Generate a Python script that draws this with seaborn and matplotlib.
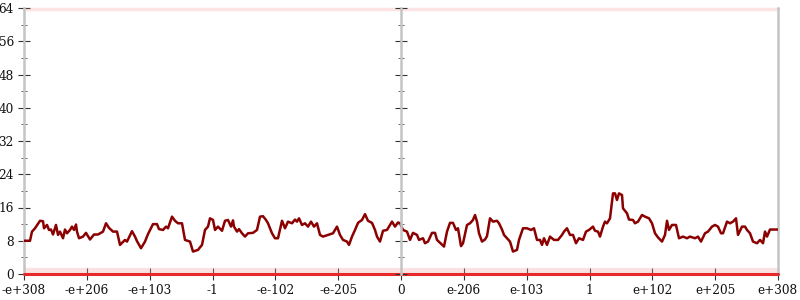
import numpy as np
import pandas as pd
import matplotlib
matplotlib.use("Agg")
import matplotlib.pyplot as plt
import seaborn as sns

# position along the axis (0..754 scale) and value
pos = [0,6,8,11,16,19,20,23,25,27,29,32,34,36,39,41,43,46,48,50,52,53,55,59,62,66,70,74,79,82,85,89,93,96,101,103,108,111,113,117,121,124,129,133,135,139,142,144,148,151,154,158,161,166,169,174,178,181,184,
       186,189,191,194,198,201,204,207,209,210,213,215,218,221,224,229,233,236,239,242,244,248,251,254,258,261,264,268,271,273,275,278,281,284,287,290,293,296,299,304,309,313,316,319,323,325,328,331,334,338,341,344,348,351,353,356,359,363,368,371,374,376,
       379,383,386,389,393,395,399,401,404,408,411,413,416,420,423,426,429,432,434,437,439,443,446,449,451,453,455,458,461,463,466,469,473,475,478,480,483,486,489,493,495,499,503,507,510,513,516,518,520,523,526,530,534,538,540,543,546,549,552,555,559,562,565,569,571,
       574,576,579,581,583,586,589,591,593,595,598,599,603,605,609,611,614,618,621,625,628,631,634,638,641,643,645,648,652,655,659,663,666,671,674,677,681,684,688,691,694,697,699,703,706,709,712,714,718,721,723,726,729,733,736,739,741,743,746,751,754]
val = [8,8,10.2,11,12.8,12.7,11,11.8,10.6,10.7,9.5,11.8,9.4,10.2,8.6,10.7,9.8,10.6,11.4,10.6,11.9,10.2,8.6,9,9.9,8.3,9.5,9.5,10.2,12.2,11.1,10.2,10.2,7,8.2,7.8,10.3,9,7.9,6.2,7.8,9.6,12,12,10.8,10.6,11.4,11,13.8,12.8,12.2,12.2,8.2,7.8,5.4,5.8,7,10.6,11.4,
       13.4,13.0,10.6,11.4,10.4,12.8,13,11.4,12.9,11.4,10.2,10.8,9.8,9,9.8,9.9,10.6,13.8,13.9,13,12.2,9.8,8.6,8.6,12.8,11,12.6,12.2,13.1,12.6,13.4,11.8,12.2,11.4,12.6,11.4,12.2,9.4,9,9.4,9.8,11.4,9.4,8.2,7.8,7,9,10.6,12.3,13,14.4,12.8,12.3,10.6,9,7.8,10.4,10.6,12.6,11.4,12.4,12.2,
       10.6,10.2,8.2,9.9,9.4,8.2,8.6,7.4,7.8,9.9,9.9,8.2,7.5,6.6,10.2,12.3,12.3,10.6,11,6.7,7.4,11.8,12.2,13,14.2,12.6,9.8,7.8,8.3,9.1,13.4,12.6,12.8,12.2,10.7,9.4,8.6,7.8,5.4,5.8,8.2,11,11,10.6,11,8.2,8.2,7,8.6,7,9,8.2,8.2,9.4,10.2,11,9.4,9.4,7.4,8.6,8.2,10.2,10.6,11.4,10.4,
       10.2,9,11.4,12.6,12.2,13.4,19.4,19.4,17.8,19.4,19,15.8,14.6,13.1,13,12.2,12.6,14.2,13.8,13.4,12.2,9.8,8.8,7.8,9.4,12.8,10.6,11.8,11.8,8.6,9,8.6,9,8.6,9,7.8,9.8,10.2,11.4,11.8,11.4,9.8,9.8,12.6,12.2,12.6,13.4,9.4,11.4,11.4,10.6,9.8,7.8,7.4,8.2,7.4,10.2,9,10.7,10.7,10.7]

x_labels = ["-e+308", "-e+206", "-e+103", "-1", "-e-102", "-e-205", "0",
            "e-206", "e-103", "1", "e+102", "e+205", "e+308"]
y_ticks = [0, 8, 16, 24, 32, 40, 48, 56, 64]

df = pd.DataFrame({"pos": pos, "val": val})

sns.set_theme(style="white")
plt.rcParams["font.family"] = ["DejaVu Serif"]

fig = plt.figure(figsize=(8, 3), dpi=100)
ax = fig.add_axes([24/800, 1-274/300, 754/800, 266/300])

# reference bands at bottom and top
ax.axhline(0.7, color="#f0a0a0", lw=4.5, alpha=0.3, zorder=1)
ax.axhline(0, color="#e8282a", lw=2.2, zorder=5, clip_on=False)
ax.axhline(63.7, color="#f07878", lw=2.5, alpha=0.2, zorder=1, clip_on=False)

sns.lineplot(data=df, x="pos", y="val", ax=ax, color="#8b0000", lw=1.8,
             sort=False, estimator=None, zorder=4)

ax.set_xlim(0, 754)
ax.set_ylim(0, 64)
ax.set_xlabel("")
ax.set_ylabel("")

xt = np.linspace(0, 754, len(x_labels))
ax.set_xticks(xt)
ax.set_xticklabels(x_labels, fontsize=8.7, color="#111111")
ax.set_yticks(y_ticks)
ax.set_yticklabels([str(v) for v in y_ticks], fontsize=8.7, color="#111111")
ax.set_yticks([4, 12, 20, 28, 36, 44, 52, 60], minor=True)

for s in ["top", "bottom"]:
    ax.spines[s].set_visible(False)
for s in ["left", "right"]:
    ax.spines[s].set_color("#c4c4c4")
    ax.spines[s].set_linewidth(1.8)

ax.tick_params(axis="y", which="major", direction="inout", length=8.5, width=0.8,
               color="#333333", left=True, right=True, labelright=False, pad=3)
ax.tick_params(axis="y", which="minor", direction="inout", length=4.5, width=0.7,
               color="#666666", left=True, right=True)
ax.tick_params(axis="x", which="major", direction="inout", length=8, width=0.8,
               color="#333333", bottom=True, pad=3)

# centre axis
ax2 = ax.twinx()
ax2.set_ylim(0, 64)
ax2.spines["right"].set_position(("axes", 0.5))
ax2.spines["right"].set_color("#c4c4c4")
ax2.spines["right"].set_linewidth(1.8)
for s in ["top", "bottom", "left"]:
    ax2.spines[s].set_visible(False)
ax2.set_yticks(y_ticks)
ax2.set_yticks([4, 12, 20, 28, 36, 44, 52, 60], minor=True)
ax2.tick_params(axis="y", which="major", direction="inout", length=8.5, width=0.8,
                color="#333333", labelright=False)
ax2.tick_params(axis="y", which="minor", direction="inout", length=4.5, width=0.7,
                color="#666666")
ax2.grid(False)
ax.grid(False)
ax2.set_zorder(0)

fig.savefig("out.png", dpi=100)
